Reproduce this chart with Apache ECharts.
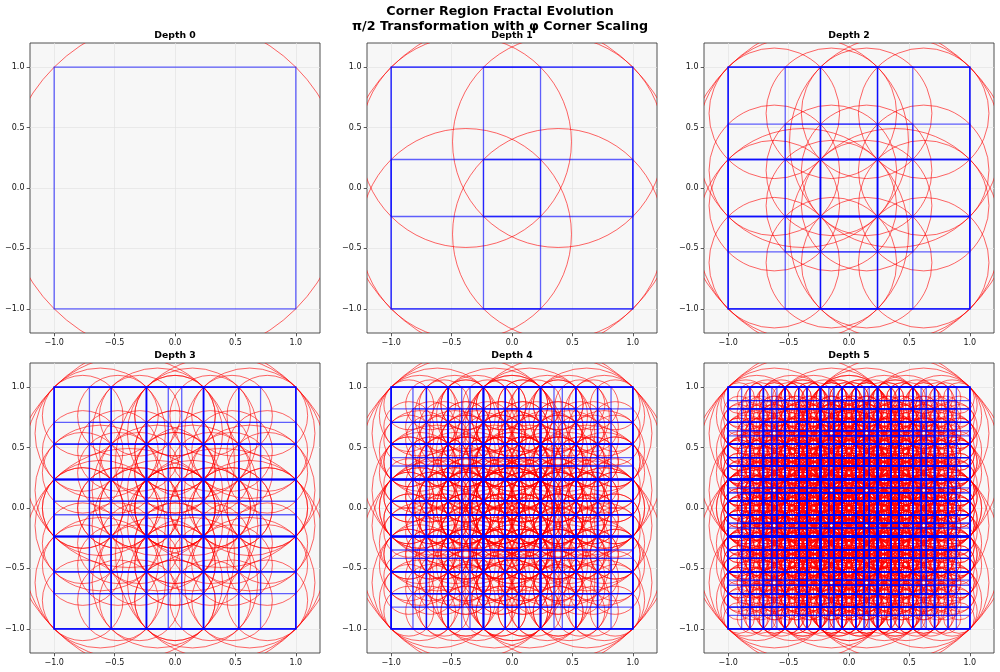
<!DOCTYPE html>
<html><head><meta charset="utf-8">
<script src="https://cdn.jsdelivr.net/npm/echarts@6/dist/echarts.min.js"></script>
<style>html,body{margin:0;padding:0;background:#fff}#c{width:1000px;height:672px}</style>
</head><body><div id="c"></div>
<script>
// ---- data ----
const titleLines = ['Corner Region Fractal Evolution', 'π/2 Transformation with φ Corner Scaling'];
const depths = [0, 1, 2, 3, 4, 5];
const panelTitles = ['Depth 0', 'Depth 1', 'Depth 2', 'Depth 3', 'Depth 4', 'Depth 5'];
const tickValues = [-1, -0.5, 0, 0.5, 1];
const tickLabels = ['−1.0', '−0.5', '0.0', '0.5', '1.0'];
const axisMin = -1.2, axisMax = 1.2;
const rootSquare = [0, 0, 2];          // centre x, centre y, side
const PHI = (1 + Math.sqrt(5)) / 2;    // corner scaling factor

// recursive corner subdivision (each square -> 4 corner squares of side s/φ)
function buildLevels(maxDepth) {
  const levels = [[rootSquare]];
  for (let l = 1; l <= maxDepth; l++) {
    const next = [];
    for (const [cx, cy, s] of levels[l - 1]) {
      const c = s / PHI, o = (s - c) / 2;
      next.push([cx - o, cy + o, c], [cx + o, cy + o, c], [cx - o, cy - o, c], [cx + o, cy - o, c]);
    }
    levels.push(next);
  }
  return levels;
}
const allLevels = buildLevels(Math.max(...depths));

// ---- layout ----
const colLeft = [30, 367, 704];
const rowTop = [43, 363];
const cell = 290;
const FONT = '"DejaVu Sans", sans-serif';

function renderCircle(params, api) {
  const c = api.coord([api.value(0), api.value(1)]);
  const r = api.value(2) * Math.SQRT1_2;
  const sz = api.size([r, r]);
  return { type: 'circle', silent: true,
    shape: { cx: c[0], cy: c[1], r: sz[0] },
    style: { fill: null, stroke: 'rgba(255,0,0,0.6)', lineWidth: 1 } };
}
function renderSquare(params, api) {
  const s = api.value(2);
  const tl = api.coord([api.value(0) - s / 2, api.value(1) + s / 2]);
  const sz = api.size([s, s]);
  return { type: 'rect', silent: true,
    shape: { x: tl[0], y: tl[1], width: sz[0], height: sz[1] },
    style: { fill: null, stroke: 'rgba(0,0,255,0.62)', lineWidth: 1.3 } };
}

const grids = [], xAxes = [], yAxes = [], series = [], graphics = [];
const labelFmt = v => { const i = tickValues.indexOf(v); return i >= 0 ? tickLabels[i] : ''; };

depths.forEach((d, i) => {
  const col = i % 3, row = Math.floor(i / 3);
  grids.push({ left: colLeft[col], top: rowTop[row], width: cell, height: cell,
    show: true, backgroundColor: '#f7f7f7', borderColor: '#3c3c3c', borderWidth: 0.9, containLabel: false });
  const axisCommon = {
    gridIndex: i, type: 'value', min: axisMin, max: axisMax,
    axisLine: { show: false, onZero: false },
    axisTick: { show: true, customValues: tickValues, length: 3.3, lineStyle: { color: '#333', width: 0.8 } },
    axisLabel: { customValues: tickValues, formatter: labelFmt, fontSize: 8, color: '#111', fontFamily: FONT, margin: 5.5 },
    splitLine: { show: true, lineStyle: { color: '#e2e2e2', width: 0.7 } }
  };
  xAxes.push(Object.assign({}, axisCommon, { position: 'bottom' }));
  yAxes.push(Object.assign({}, axisCommon, { position: 'left' }));

  let squares = [];
  for (let l = 0; l <= d; l++) squares = squares.concat(allLevels[l]);
  series.push({ type: 'custom', xAxisIndex: i, yAxisIndex: i, clip: true, silent: true,
    animation: false, renderItem: renderCircle, data: squares, encode: { x: 0, y: 1 }, z: 2 });
  series.push({ type: 'custom', xAxisIndex: i, yAxisIndex: i, clip: true, silent: true,
    animation: false, renderItem: renderSquare, data: squares, encode: { x: 0, y: 1 }, z: 3 });

  graphics.push({ type: 'text', x: colLeft[col] + cell / 2, y: rowTop[row] - 7, z: 100,
    style: { text: panelTitles[i], font: 'bold 9.3px ' + FONT, fill: '#000', align: 'center', verticalAlign: 'middle' } });
});

graphics.push({ type: 'text', x: 500, y: 12, z: 100,
  style: { text: titleLines[0], font: 'bold 12.7px ' + FONT, fill: '#000', align: 'center', verticalAlign: 'middle' } });
graphics.push({ type: 'text', x: 500, y: 26.5, z: 100,
  style: { text: titleLines[1], font: 'bold 12.7px ' + FONT, fill: '#000', align: 'center', verticalAlign: 'middle' } });

const chart = echarts.init(document.getElementById('c'), null, { renderer: 'canvas' });
chart.setOption({
  animation: false,
  backgroundColor: '#ffffff',
  grid: grids, xAxis: xAxes, yAxis: yAxes, series: series,
  graphic: { elements: graphics }
});
</script>
</body></html>
